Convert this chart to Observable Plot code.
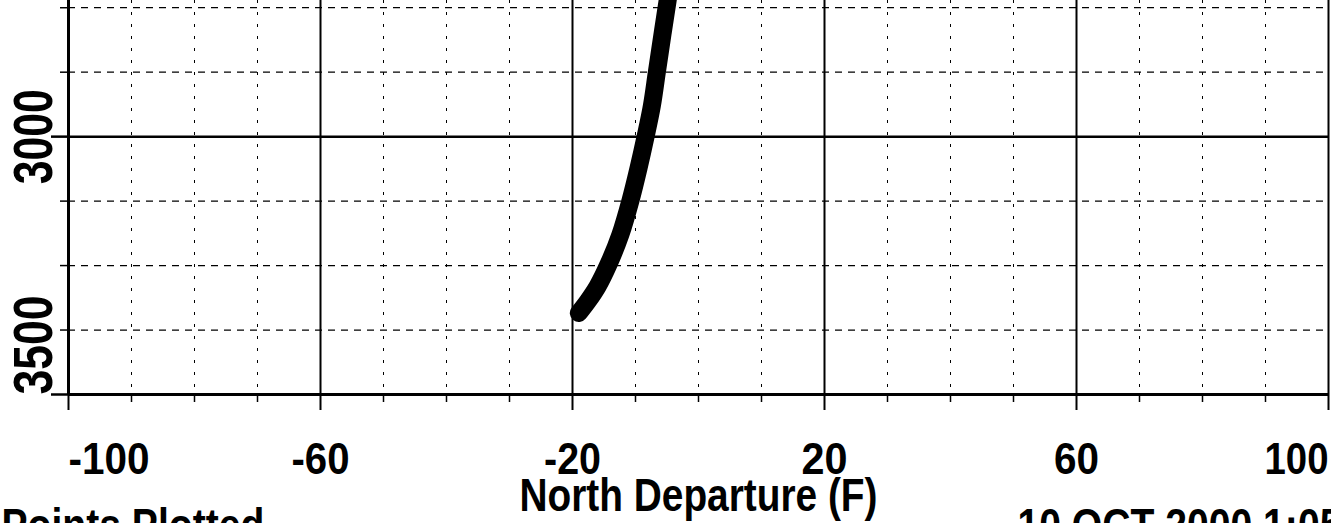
<!DOCTYPE html>
<html><head><meta charset="utf-8">
<script src="https://cdn.jsdelivr.net/npm/d3@7"></script>
<script src="https://cdn.jsdelivr.net/npm/@observablehq/plot@0.6"></script>
<style>body{margin:0;background:#fff;overflow:hidden}</style>
</head><body><div id="chart"></div>
<script>
// Well path: measured depth (F) vs north departure (F)
const depth = [2690, 2736, 2800, 2874, 2940, 3000, 3060, 3124, 3190, 3248, 3290, 3318, 3342];
const north = [-4.3, -4.9, -5.7, -6.6, -7.4, -8.4, -9.5, -10.8, -12.4, -14.3, -16.0, -17.5, -19.0];
const xMajorTicks = [-100, -60, -20, 20, 60, 100];
const xMinorTicks = [-90, -80, -70, -50, -40, -30, -10, 0, 10, 30, 40, 50, 70, 80, 90];
const yMajorTicks = [3000, 3500];
const yMinorTicks = [2750, 2875, 3125, 3250, 3375];
const xTitle = "North Departure (F)";
const footLeft = "Points Plotted";
const footRight = "10 OCT 2000 1:05";

const path = depth.map((d, i) => ({depth: d, north: north[i]}));
const fam = "'Liberation Sans', Arial, sans-serif";
const font = {fontFamily: fam, fontWeight: "bold", fill: "black"};
const noText = {tickFormat: () => "", label: null, stroke: "black"};

const chart = Plot.plot({
  width: 1331, height: 523,
  marginLeft: 68, marginRight: 3, marginTop: 0, marginBottom: 129,
  x: {domain: [-100, 100]},
  y: {domain: [2736, 3500], reverse: true},
  style: {background: "white", fontFamily: fam, overflow: "hidden"},
  marks: [
    Plot.ruleX(xMinorTicks, {stroke: "black", strokeWidth: 1, strokeDasharray: "3,9"}),
    Plot.ruleY(yMinorTicks, {stroke: "black", strokeWidth: 1.3, strokeDasharray: "7,6"}),
    Plot.ruleX(xMajorTicks.slice(1, -1), {stroke: "black", strokeWidth: 2}),
    Plot.ruleX([100], {stroke: "black", strokeWidth: 2}),
    Plot.ruleY([3000], {stroke: "black", strokeWidth: 2.5}),
    Plot.ruleX([-100], {stroke: "black", strokeWidth: 3}),
    Plot.ruleY([3500], {stroke: "black", strokeWidth: 3}),
    Plot.axisX(xMinorTicks, {...noText, tickSize: 8, strokeWidth: 1.5}),
    Plot.axisX(xMajorTicks, {...noText, tickSize: 16, strokeWidth: 2}),
    Plot.axisY(yMinorTicks, {...noText, tickSize: 8, strokeWidth: 1.5}),
    Plot.axisY(yMajorTicks, {...noText, tickSize: 17, strokeWidth: 2.5}),
    Plot.line(path, {x: "north", y: "depth", stroke: "black", strokeWidth: 18,
      strokeLinecap: "round", strokeLinejoin: "round", curve: "catmull-rom", clip: true}),
    // x tick labels
    Plot.text(xMajorTicks.slice(0, 1), {x: d => d, y: 3500, text: d => String(d), textAnchor: "start",
      lineAnchor: "bottom", dy: 79, fontSize: 45, ...font}),
    Plot.text(xMajorTicks.slice(1, -1), {x: d => d, y: 3500, text: d => String(d), textAnchor: "middle",
      lineAnchor: "bottom", dy: 79, fontSize: 45, ...font}),
    Plot.text(xMajorTicks.slice(-1), {x: d => d, y: 3500, text: d => String(d), textAnchor: "end",
      lineAnchor: "bottom", dy: 79, fontSize: 45, ...font}),
    // y tick labels (rotated)
    Plot.text(yMajorTicks.slice(0, 1), {x: -100, y: d => d, text: d => String(d), rotate: -90,
      textAnchor: "middle", lineAnchor: "bottom", dx: -17, fontSize: 55, ...font}),
    Plot.text(yMajorTicks.slice(-1), {x: -100, y: d => d, text: d => String(d), rotate: -90,
      textAnchor: "start", lineAnchor: "bottom", dx: -17, fontSize: 55, ...font}),
    // axis title and footer
    Plot.text([xTitle], {frameAnchor: "bottom", text: d => d, textAnchor: "middle",
      lineAnchor: "bottom", dy: 116, fontSize: 46, ...font}),
    Plot.text([footLeft], {frameAnchor: "bottom-left", text: d => d, textAnchor: "start",
      lineAnchor: "bottom", dx: -67, dy: 146, fontSize: 46, ...font}),
    Plot.text([footRight], {frameAnchor: "bottom-left", text: d => d, textAnchor: "start",
      lineAnchor: "bottom", dx: 949, dy: 146, fontSize: 46, ...font})
  ]
});
document.getElementById("chart").append(chart);

// condense glyphs to match the narrow face of the original
const targetWidth = {"-100": 81, "-60": 58, "-20": 57, "20": 46, "60": 45, "100": 64,
  "3000": 95, "3500": 99, "North Departure (F)": 358};
chart.querySelectorAll("text").forEach(t => {
  const s = t.textContent;
  if (!s) return;
  const w = t.getComputedTextLength();
  if (!w) return;
  const tw = targetWidth[s] ?? w * 0.85;
  t.setAttribute("textLength", tw.toFixed(1));
  t.setAttribute("lengthAdjust", "spacingAndGlyphs");
});
</script>
</body></html>
